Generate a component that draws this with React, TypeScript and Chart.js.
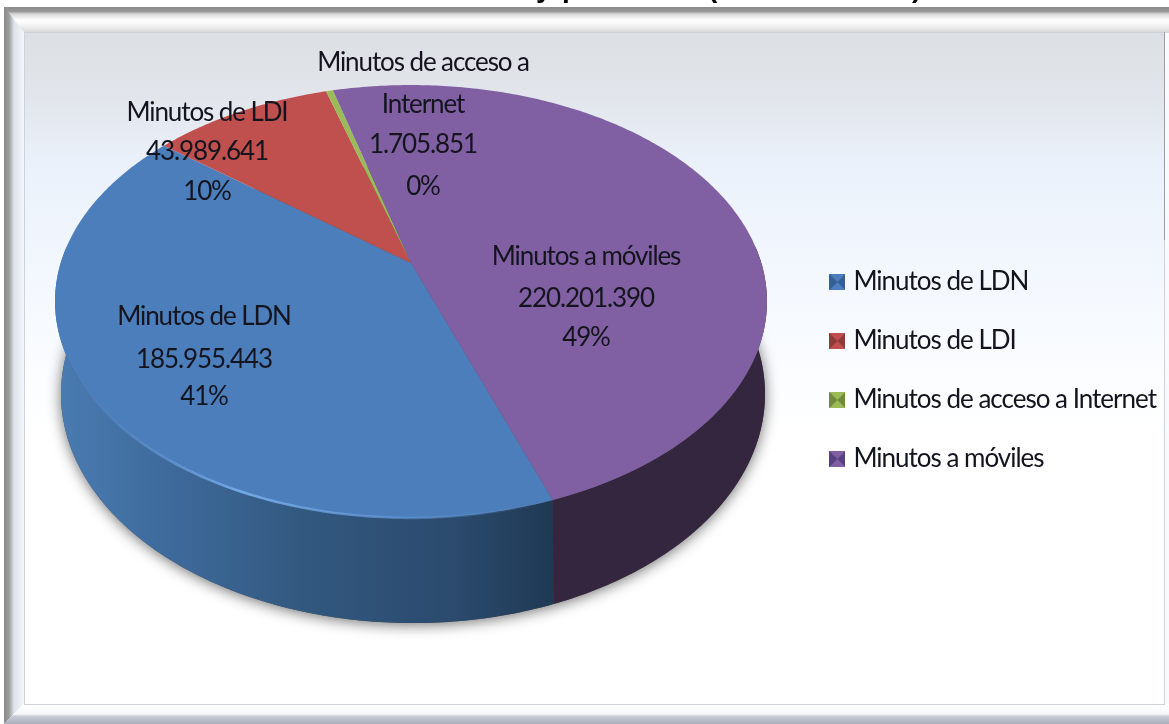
import React, { useEffect, useRef } from "react";
import { Chart, registerables } from "chart.js";

Chart.register(...registerables);

const categories = ["Minutos de LDN", "Minutos de LDI", "Minutos de acceso a Internet", "Minutos a móviles"];
const minutes = [185955443, 43989641, 1705851, 220201390];
const sliceColors = ["#4c7ebb", "#c0504d", "#9bbb59", "#8060a2"];
const darkColors = ["#2c5480", "#8a3532", "#6c8540", "#35263f"];
const markerShades = ["#345f94", "#8e3a38", "#6f8a3c", "#574280"];
const labelLines = [
  ["Minutos de LDN"],
  ["Minutos de LDI"],
  ["Minutos de acceso a", "Internet"],
  ["Minutos a móviles"],
];
const titleFragments = ["y", "p", "(", ")"];

const FONT = "Lato, Carlito, 'Open Sans', sans-serif";
const SPACING = "-1px";

// projection of the pie's unit disc on the page
const K = 0.1778;
const TOP_FACE = { cx: 411, cy: 263, a: 350.3, b: 209.6 };
const BOTTOM_FACE = { cx: 413, cy: 353.3, a: 346.4, b: 221.8 };
const project = (f: typeof TOP_FACE, t: number) => {
  const u = Math.cos(t);
  const v = Math.sin(t);
  const w = 1 - K * v;
  return [f.cx + (f.a * u) / w, f.cy + (f.b * v) / w];
};
const LABEL_ANCHORS = [
  { x: 204, y: [317, 360, 397] },
  { x: 207, y: [113, 152, 192] },
  { x: 423, y: [63, 105, 145, 187] },
  { x: 586, y: [257, 299, 338] },
];
const TITLE_X = [536, 562, 708, 912];

function pillow(color: string, dark: string) {
  const c = document.createElement("canvas");
  c.width = 16;
  c.height = 16;
  const x = c.getContext("2d")!;
  x.fillStyle = color;
  x.fillRect(0, 0, 16, 16);
  x.fillStyle = dark;
  x.beginPath();
  x.moveTo(0, 0);
  x.lineTo(8, 8);
  x.lineTo(0, 16);
  x.closePath();
  x.fill();
  x.beginPath();
  x.moveTo(16, 0);
  x.lineTo(8, 8);
  x.lineTo(16, 16);
  x.closePath();
  x.fill();
  return c;
}

function tracePath(ctx: CanvasRenderingContext2D, pts: number[][]) {
  pts.forEach((p, i) => (i ? ctx.lineTo(p[0], p[1]) : ctx.moveTo(p[0], p[1])));
}

function sample(a0: number, a1: number) {
  const n = Math.max(2, Math.ceil(Math.abs(a1 - a0) * 80));
  return Array.from({ length: n + 1 }, (_, i) => a0 + ((a1 - a0) * i) / n);
}

const framePlugin = {
  id: "frame",
  beforeDraw(chart: any) {
    const ctx: CanvasRenderingContext2D = chart.ctx;
    const W = 1169;
    const H = 724;
    ctx.save();
    (ctx as any).letterSpacing = "0px";
    ctx.fillStyle = "#fff";
    ctx.fillRect(0, 0, W, H);

    // clipped heading of the slide
    ctx.fillStyle = "#000";
    ctx.font = "bold 28px 'Liberation Sans', sans-serif";
    ctx.textBaseline = "alphabetic";
    ctx.textAlign = "left";
    titleFragments.forEach((s, i) => ctx.fillText(s, TITLE_X[i], -3));

    // bevel
    let g = ctx.createLinearGradient(0, 7, 0, 33);
    g.addColorStop(0, "#8c8c8c");
    g.addColorStop(0.18, "#999999");
    g.addColorStop(0.26, "#d4d4d4");
    g.addColorStop(0.5, "#ffffff");
    g.addColorStop(0.72, "#f2f2f2");
    g.addColorStop(1, "#d6d6d6");
    ctx.fillStyle = g;
    ctx.fillRect(4, 7, W - 4, 26);

    g = ctx.createLinearGradient(4, 0, 24, 0);
    g.addColorStop(0, "#8a8a8a");
    g.addColorStop(0.25, "#9c9c9c");
    g.addColorStop(0.5, "#dfe3ea");
    g.addColorStop(1, "#f2f5fb");
    ctx.fillStyle = g;
    ctx.beginPath();
    ctx.moveTo(4, 7);
    ctx.lineTo(24, 32);
    ctx.lineTo(24, 704);
    ctx.lineTo(4, 724);
    ctx.closePath();
    ctx.fill();

    ctx.fillStyle = "#f8fafd";
    ctx.fillRect(1164, 33, 5, 682);

    g = ctx.createLinearGradient(0, 704, 0, 724);
    g.addColorStop(0, "#ffffff");
    g.addColorStop(0.5, "#f6f7fa");
    g.addColorStop(0.62, "#c9ccd5");
    g.addColorStop(1, "#a9adb9");
    ctx.fillStyle = g;
    ctx.beginPath();
    ctx.moveTo(24, 704);
    ctx.lineTo(W, 704);
    ctx.lineTo(W, 724);
    ctx.lineTo(4, 724);
    ctx.closePath();
    ctx.fill();

    // inner panel
    g = ctx.createLinearGradient(0, 32, 0, 704);
    g.addColorStop(0, "#dcdfe3");
    g.addColorStop(0.1, "#e2e6ec");
    g.addColorStop(0.2, "#ebf1fb");
    g.addColorStop(0.42, "#f6faff");
    g.addColorStop(0.6, "#ffffff");
    g.addColorStop(1, "#ffffff");
    ctx.fillStyle = g;
    ctx.fillRect(24, 32, 1140, 672);
    ctx.strokeStyle = "#cfd2da";
    ctx.lineWidth = 1;
    ctx.strokeRect(24.5, 32.5, 1140, 672);
    ctx.strokeStyle = "#9a9da6";
    ctx.beginPath();
    ctx.moveTo(1164.5, 32);
    ctx.lineTo(1164.5, 240);
    ctx.stroke();
    ctx.restore();
  },
};

const piePlugin = {
  id: "pie3d",
  beforeDatasetDraw(chart: any) {
    const ctx: CanvasRenderingContext2D = chart.ctx;
    const arcs = chart.getDatasetMeta(0).data;
    ctx.save();

    // soft ground shadow
    const outline = sample(0, Math.PI * 2).map((t) => project(BOTTOM_FACE, t));
    ctx.save();
    ctx.shadowColor = "rgba(40,40,40,0.65)";
    ctx.shadowBlur = 14;
    ctx.shadowOffsetY = 2;
    ctx.fillStyle = "#555";
    ctx.beginPath();
    tracePath(ctx, outline);
    ctx.closePath();
    ctx.fill();
    ctx.restore();

    // outer wall, only the part facing the viewer
    arcs.forEach((arc: any, i: number) => {
      const step = Math.PI * 2;
      for (const shift of [0, -step, step]) {
        const s = Math.max(arc.startAngle + shift, -0.08);
        const e = Math.min(arc.endAngle + shift, Math.PI + 0.08);
        if (e <= s) continue;
        const angles = sample(s, e);
        const top = angles.map((t) => project(TOP_FACE, t));
        const bot = angles.map((t) => project(BOTTOM_FACE, t)).reverse();
        ctx.beginPath();
        tracePath(ctx, top.concat(bot));
        ctx.closePath();
        if (i === 0) {
          const g = ctx.createLinearGradient(55, 0, 556, 0);
          g.addColorStop(0, "#4a7cb2");
          g.addColorStop(0.2, "#3f6c9e");
          g.addColorStop(0.5, "#32587f");
          g.addColorStop(0.8, "#2b4a6d");
          g.addColorStop(1, "#1e3953");
          ctx.fillStyle = g;
        } else {
          ctx.fillStyle = darkColors[i];
        }
        ctx.fill();
      }
    });

    // top face of each slice, from the angles the library computed
    arcs.forEach((arc: any, i: number) => {
      const pts = sample(arc.startAngle, arc.endAngle).map((t) => project(TOP_FACE, t));
      ctx.beginPath();
      ctx.moveTo(TOP_FACE.cx, TOP_FACE.cy);
      pts.forEach((p) => ctx.lineTo(p[0], p[1]));
      ctx.closePath();
      ctx.fillStyle = sliceColors[i];
      ctx.fill();
    });

    // light catching the front lip of the blue slice
    const lip = sample(Math.PI * 0.36, Math.PI * 0.98).map((t) => project(TOP_FACE, t));
    const lg = ctx.createLinearGradient(80, 0, 540, 0);
    lg.addColorStop(0, "rgba(110,165,230,0)");
    lg.addColorStop(0.35, "rgba(120,175,240,0.9)");
    lg.addColorStop(0.7, "rgba(110,165,230,0.5)");
    lg.addColorStop(1, "rgba(110,165,230,0)");
    ctx.beginPath();
    tracePath(ctx, lip);
    ctx.strokeStyle = lg;
    ctx.lineWidth = 2.5;
    ctx.stroke();
    ctx.restore();
    return false;
  },
  afterDatasetsDraw(chart: any) {
    const ctx: CanvasRenderingContext2D = chart.ctx;
    const total = minutes.reduce((a, b) => a + b, 0);
    ctx.save();
    ctx.font = `26px ${FONT}`;
    (ctx as any).letterSpacing = "-1.1px";
    ctx.textAlign = "center";
    ctx.textBaseline = "middle";
    ctx.fillStyle = "#14141f";
    minutes.forEach((value, i) => {
      const lines = [
        ...labelLines[i],
        value.toLocaleString("es-ES", { useGrouping: true }).replace(/\s/g, "."),
        `${Math.round((value / total) * 100)}%`,
      ];
      lines.forEach((line, k) => ctx.fillText(line, LABEL_ANCHORS[i].x, LABEL_ANCHORS[i].y[k]));
    });
    ctx.restore();
  },
};

export default function App() {
  const ref = useRef<HTMLCanvasElement>(null);
  useEffect(() => {
    document.body.style.margin = "0";
    const canvas = ref.current!;
    const spacing = {
      id: "spacing",
      beforeUpdate(chart: any) {
        chart.ctx.letterSpacing = SPACING;
      },
      beforeDraw(chart: any) {
        chart.ctx.letterSpacing = SPACING;
      },
    };
    const chart = new Chart(canvas, {
      type: "pie",
      data: {
        labels: categories,
        datasets: [{ data: minutes, backgroundColor: sliceColors, borderWidth: 0 }],
      },
      options: {
        responsive: false,
        animation: false,
        rotation: 160.3,
        layout: { padding: { top: 17, right: 3 } },
        plugins: {
          tooltip: { enabled: false },
          title: { display: false },
          legend: {
            position: "right",
            labels: {
              usePointStyle: true,
              boxWidth: 6,
              padding: 33,
              color: "#14141f",
              font: { size: 26, family: FONT },
              generateLabels: () =>
                categories.map((text, i) => ({
                  text,
                  fontColor: "#14141f",
                  pointStyle: pillow(sliceColors[i], markerShades[i]),
                  fillStyle: sliceColors[i],
                  lineWidth: 0,
                  hidden: false,
                  index: i,
                })) as any,
            },
          },
        },
      },
      plugins: [spacing, framePlugin, piePlugin],
    } as any);
    return () => chart.destroy();
  }, []);
  return (
    <canvas
      ref={ref}
      width={1169}
      height={724}
      style={{ position: "absolute", left: 0, top: 0, display: "block" }}
    />
  );
}
